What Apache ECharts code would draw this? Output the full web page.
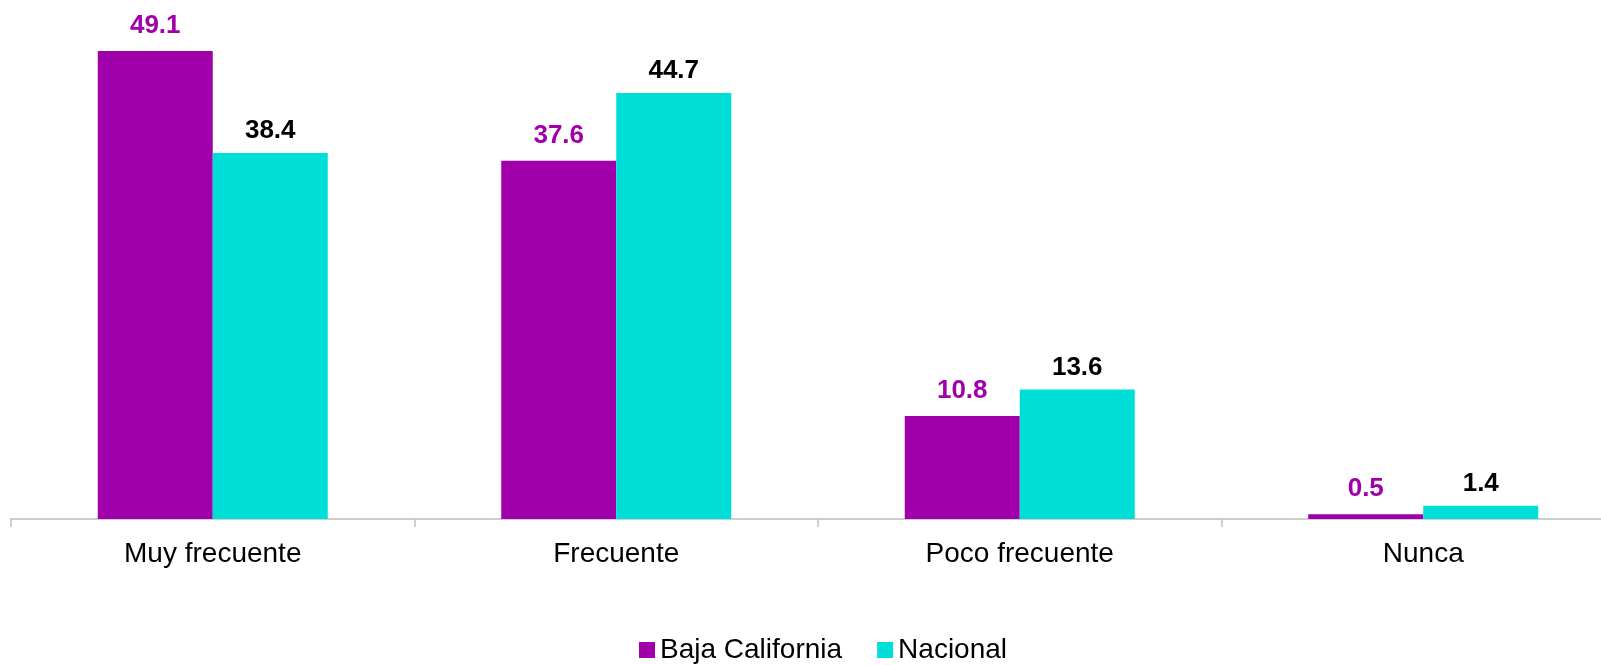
<!DOCTYPE html>
<html>
<head>
<meta charset="utf-8">
<script src="https://cdn.jsdelivr.net/npm/echarts@6/dist/echarts.min.js"></script>
<style>
  html, body { margin: 0; padding: 0; background: #fff; }
  #chart { width: 1601px; height: 665px; }
</style>
</head>
<body>
<div id="chart"></div>
<script>
// categorías y valores (%)
var categories = ['Muy frecuente', 'Frecuente', 'Poco frecuente', 'Nunca'];
var bajaCalifornia = [49.1, 37.6, 10.8, 0.5];
var nacional = [38.4, 44.7, 13.6, 1.4];

var purple = '#A000AA';
var cyan = '#00DED8';

var chart = echarts.init(document.getElementById('chart'));
var option = {
    animation: false,
    textStyle: { fontFamily: 'Liberation Sans, Arial, sans-serif' },
    grid: {
        left: 11,
        width: 1614,
        top: 42.5,
        bottom: 146,
        outerBoundsMode: 'none'
    },
    legend: {
        bottom: -4,
        left: 634,
        itemWidth: 16,
        itemHeight: 16,
        itemGap: 35,
        icon: 'rect',
        textStyle: { fontSize: 28, color: '#000' },
        data: ['Baja California', 'Nacional']
    },
    xAxis: {
        type: 'category',
        data: categories,
        axisLine: { lineStyle: { color: '#BFBFBF', width: 1.5 } },
        axisTick: { show: true, length: 8, lineStyle: { color: '#BFBFBF', width: 1.5 } },
        axisLabel: { fontSize: 28, color: '#000', margin: 21 }
    },
    yAxis: {
        type: 'value',
        min: 0,
        max: 50,
        show: false,
        splitLine: { show: false }
    },
    series: [
        {
            name: 'Baja California',
            type: 'bar',
            data: bajaCalifornia,
            barGap: '0%',
            barCategoryGap: '43%',
            itemStyle: { color: purple },
            label: {
                show: true,
                position: 'top',
                distance: 12,
                fontSize: 26,
                fontWeight: 'bold',
                color: purple,
                formatter: function (p) { return p.value.toFixed(1); }
            }
        },
        {
            name: 'Nacional',
            type: 'bar',
            data: nacional,
            itemStyle: { color: cyan },
            label: {
                show: true,
                position: 'top',
                distance: 9,
                fontSize: 26,
                fontWeight: 'bold',
                color: '#000',
                formatter: function (p) { return p.value.toFixed(1); }
            }
        }
    ]
};
chart.setOption(option);
</script>
</body>
</html>
